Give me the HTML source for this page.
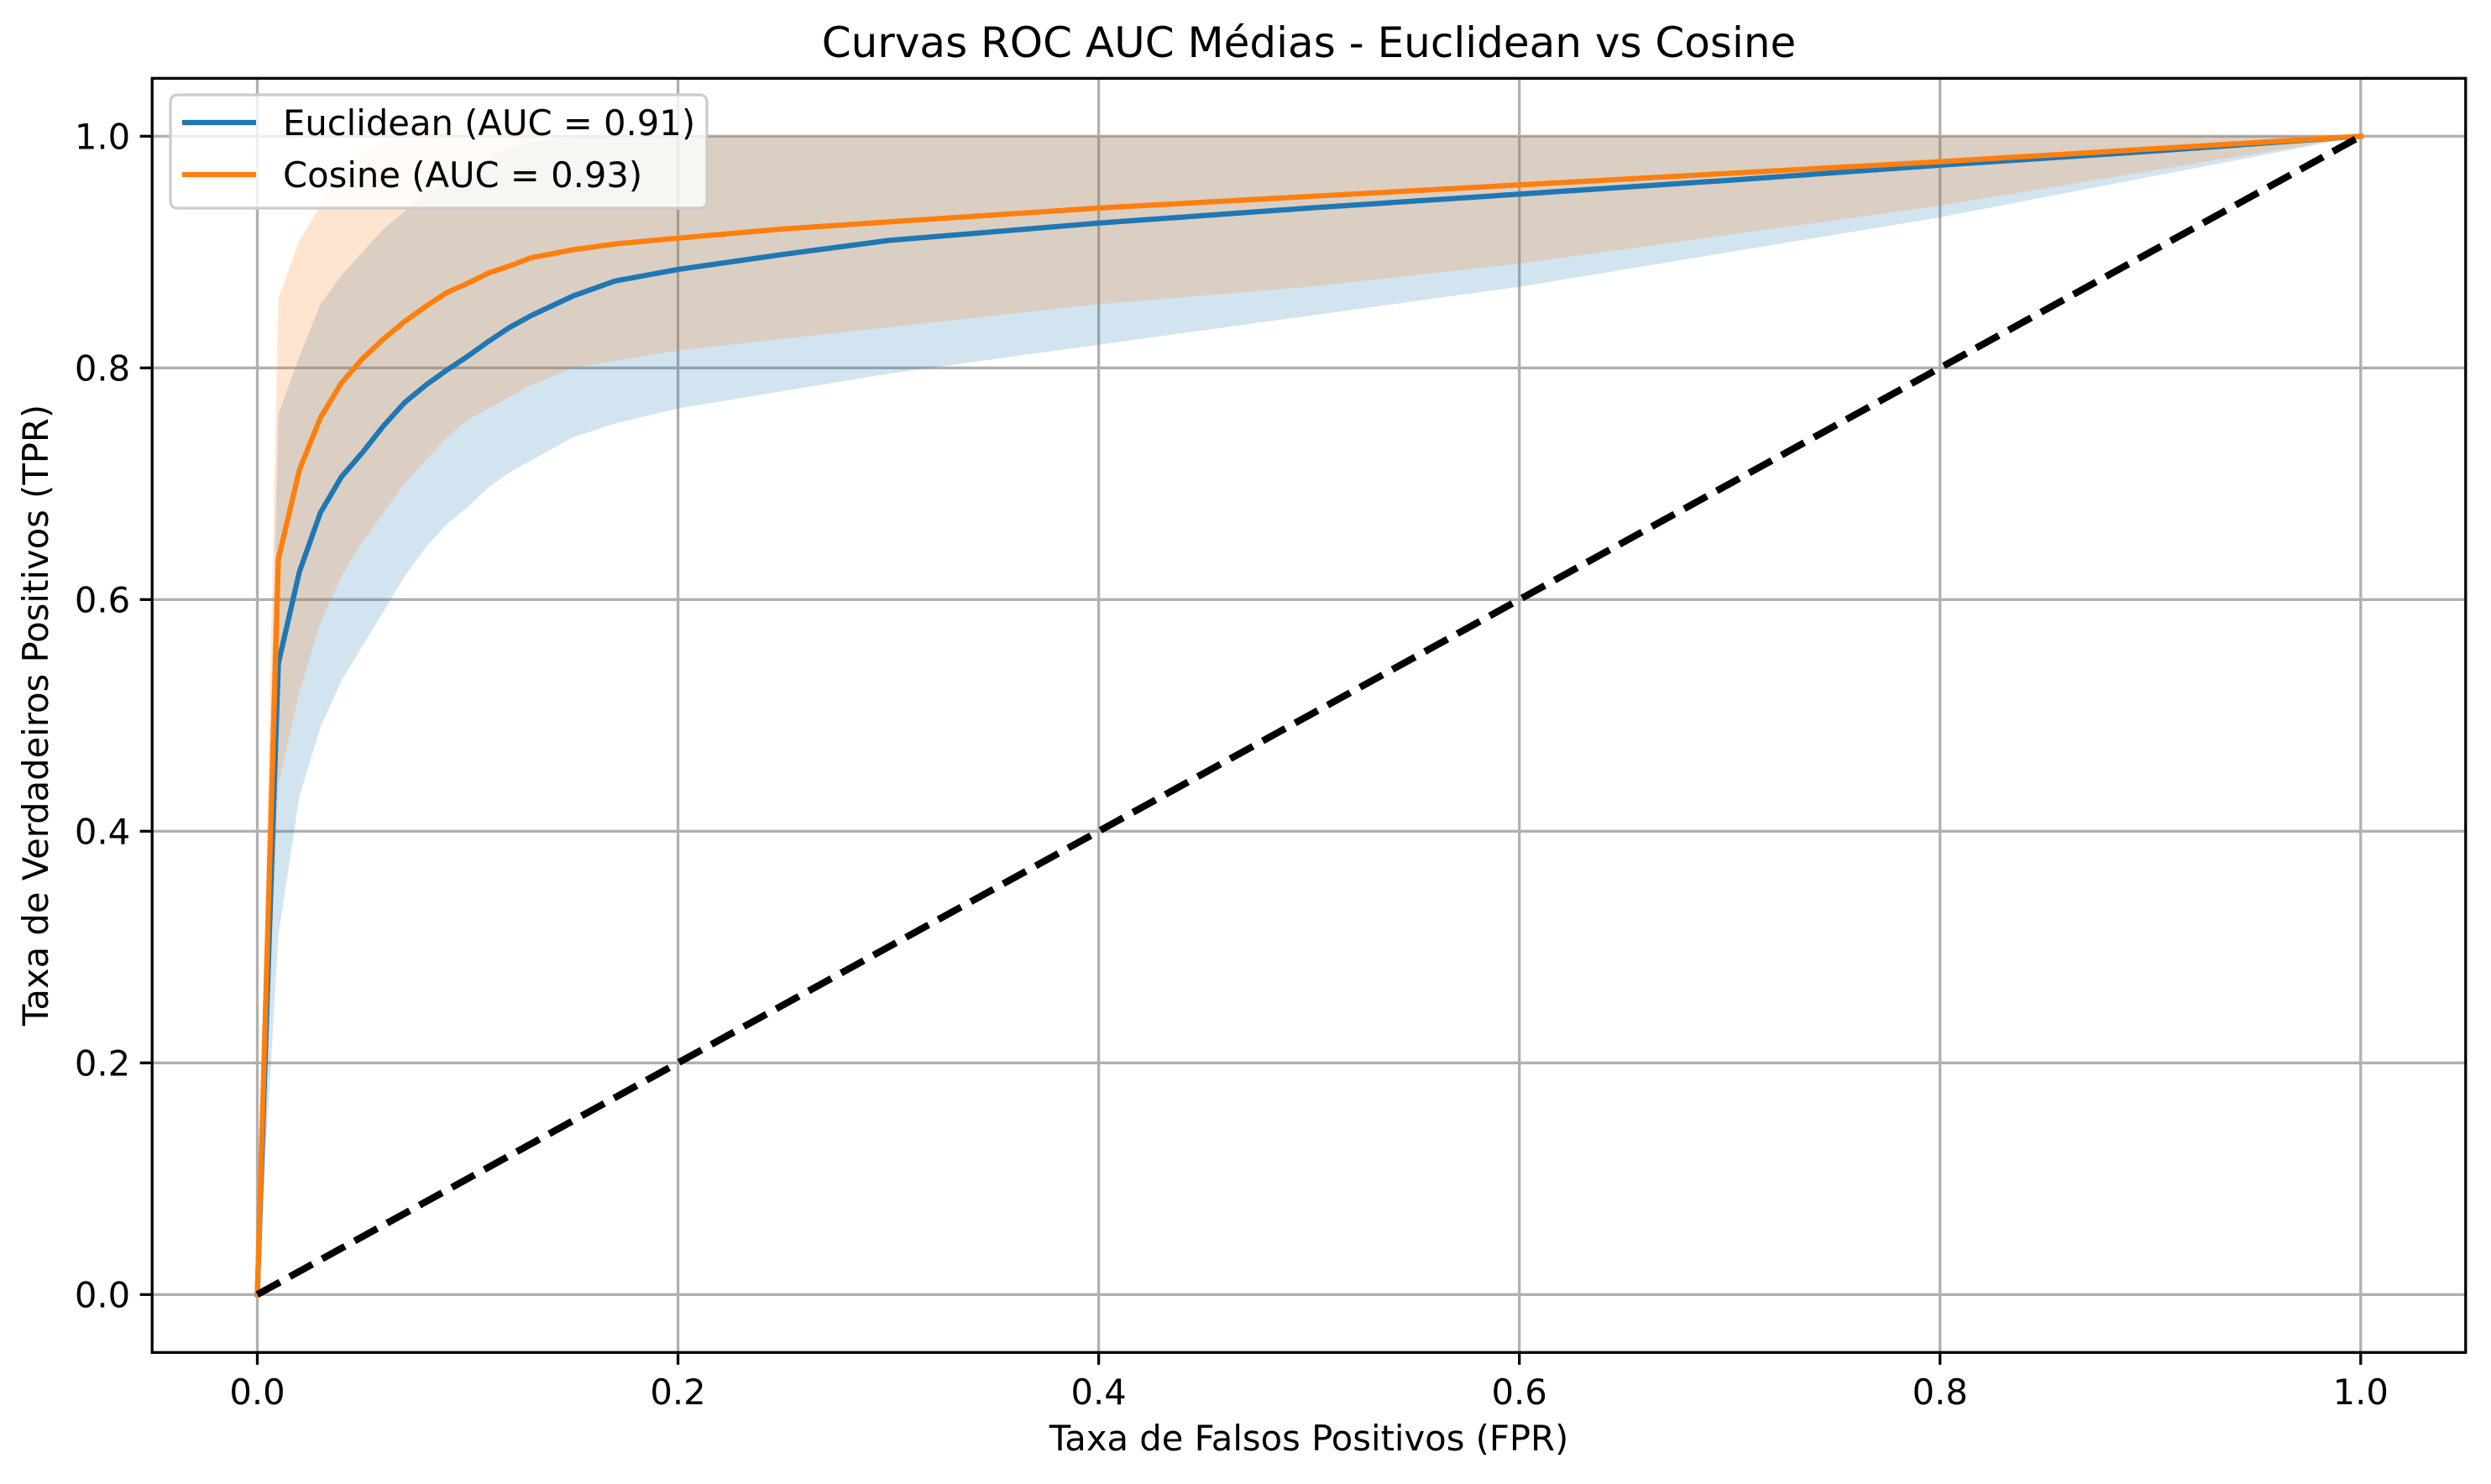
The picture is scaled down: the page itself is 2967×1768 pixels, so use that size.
<!DOCTYPE html>
<html><head><meta charset="utf-8"><style>
html,body{margin:0;padding:0;background:#fff}
svg{display:block}
text{font-family:"DejaVu Sans","Liberation Sans",sans-serif;fill:#000}
</style></head><body>
<svg id="chart" width="2967" height="1768" viewBox="0 0 2967 1768" xmlns="http://www.w3.org/2000/svg">
<g id="grid"></g>
<g id="bands"></g>
<g id="lines"></g>
<g id="axes"></g>
<text x="1559" y="68" font-size="50" text-anchor="middle">Curvas ROC AUC Médias - Euclidean vs Cosine</text>
<text x="1559" y="1728" font-size="41.7" text-anchor="middle">Taxa de Falsos Positivos (FPR)</text>
<text x="0" y="0" font-size="41.7" text-anchor="middle" transform="translate(57,852) rotate(-90)">Taxa de Verdadeiros Positivos (TPR)</text>
<g>
<rect x="203" y="113" width="639" height="135" rx="8" fill="#fff" fill-opacity="0.8" stroke="#cccccc" stroke-width="3.3"/>
<line x1="217" y1="146" x2="305" y2="146" stroke="#1f77b4" stroke-width="6.25"/>
<text x="337" y="161" font-size="41.7">Euclidean (AUC = 0.91)</text>
<line x1="217" y1="208" x2="305" y2="208" stroke="#ff7f0e" stroke-width="6.25"/>
<text x="337" y="223" font-size="41.7">Cosine (AUC = 0.93)</text>
</g>
</svg>
<script>
const fpr     = [0,0.01,0.02,0.03,0.04,0.05,0.06,0.07,0.08,0.09,0.1,0.11,0.12,0.13,0.15,0.17,0.2,0.25,0.3,0.4,0.5,0.6,0.7,0.8,0.9,1.0];
const eucMean = [0,0.545,0.624,0.675,0.706,0.727,0.75,0.77,0.785,0.798,0.81,0.823,0.835,0.845,0.862,0.875,0.885,0.898,0.91,0.925,0.938,0.95,0.962,0.975,0.987,1.0];
const eucLow  = [0,0.31,0.43,0.49,0.53,0.56,0.59,0.62,0.645,0.665,0.68,0.697,0.71,0.72,0.74,0.752,0.765,0.78,0.795,0.82,0.845,0.87,0.9,0.93,0.965,1.0];
const eucHigh = [0,0.76,0.81,0.855,0.88,0.9,0.92,0.935,0.95,0.96,0.97,0.98,0.99,0.995,1.0,1.0,1.0,1.0,1.0,1.0,1.0,1.0,1.0,1.0,1.0,1.0];
const cosMean = [0,0.635,0.712,0.757,0.787,0.808,0.825,0.84,0.853,0.865,0.873,0.882,0.888,0.895,0.902,0.907,0.912,0.92,0.926,0.938,0.948,0.958,0.968,0.978,0.989,1.0];
const cosLow  = [0,0.44,0.52,0.58,0.62,0.65,0.675,0.70,0.72,0.74,0.755,0.765,0.775,0.785,0.80,0.806,0.815,0.825,0.835,0.855,0.87,0.89,0.915,0.94,0.97,1.0];
const cosHigh = [0,0.86,0.91,0.94,0.965,0.985,0.995,1.0,1.0,1.0,1.0,1.0,1.0,1.0,1.0,1.0,1.0,1.0,1.0,1.0,1.0,1.0,1.0,1.0,1.0,1.0];
const xTicks = [0,0.2,0.4,0.6,0.8,1.0];
const yTicks = [0,0.2,0.4,0.6,0.8,1.0];

const NS='http://www.w3.org/2000/svg';
const L=181.2,R=2936.8,T=93.3,B=1611.3;
const X=v=>306.5+v*2505.3;
const Y=v=>1542.3-v*1380;
function mk(tag,attrs,parent){const e=document.createElementNS(NS,tag);for(const k in attrs)e.setAttribute(k,attrs[k]);parent.appendChild(e);return e;}
const grid=document.getElementById('grid'),bands=document.getElementById('bands'),lines=document.getElementById('lines'),axes=document.getElementById('axes');
xTicks.forEach(t=>{
  const g=mk('line',{x1:X(t),x2:X(t),y1:T,y2:B,stroke:'#b0b0b0','stroke-width':3.3},grid);
  
  
  const tk=mk('line',{x1:X(t),x2:X(t),y1:B,y2:B+14.6,stroke:'#000','stroke-width':3.3},axes);
  
  
  const lb=mk('text',{x:X(t),y:1673,'font-size':41.7,'text-anchor':'middle'},axes);
  lb.textContent=t.toFixed(1);
  
  
});
yTicks.forEach(t=>{
  const g=mk('line',{x1:L,x2:R,y1:Y(t),y2:Y(t),stroke:'#b0b0b0','stroke-width':3.3},grid);
  
  
  const tk=mk('line',{x1:L-14.6,x2:L,y1:Y(t),y2:Y(t),stroke:'#000','stroke-width':3.3},axes);
  
  
  const lb=mk('text',{x:L-26,y:Y(t)+15,'font-size':41.7,'text-anchor':'end'},axes);
  lb.textContent=t.toFixed(1);
  
  
});
function band(lo,hi,color,name){
  let d='M'+fpr.map((f,i)=>X(f)+','+Y(Math.min(1,hi[i]))).join('L');
  for(let i=fpr.length-1;i>=0;i--)d+='L'+X(fpr[i])+','+Y(lo[i]);
  const p=mk('path',{d:d+'Z',fill:color,'fill-opacity':0.2},bands);
  
  
}
band(eucLow,eucHigh,'#1f77b4','euclidean-band');
band(cosLow,cosHigh,'#ff7f0e','cosine-band');
function line(vals,color,name){
  const p=mk('polyline',{points:fpr.map((f,i)=>X(f)+','+Y(vals[i])).join(' '),fill:'none',stroke:color,'stroke-width':6.25,'stroke-linejoin':'round','stroke-linecap':'square'},lines);
  
  
}
line(eucMean,'#1f77b4','euclidean-line');
line(cosMean,'#ff7f0e','cosine-line');
const dg=mk('line',{x1:X(0),y1:Y(0),x2:X(1),y2:Y(1),stroke:'#000','stroke-width':8.3,'stroke-dasharray':'30.8 13.3'},lines);


const fr=mk('rect',{x:L,y:T,width:R-L,height:B-T,fill:'none',stroke:'#000','stroke-width':3.3},axes);


</script>
</body></html>
